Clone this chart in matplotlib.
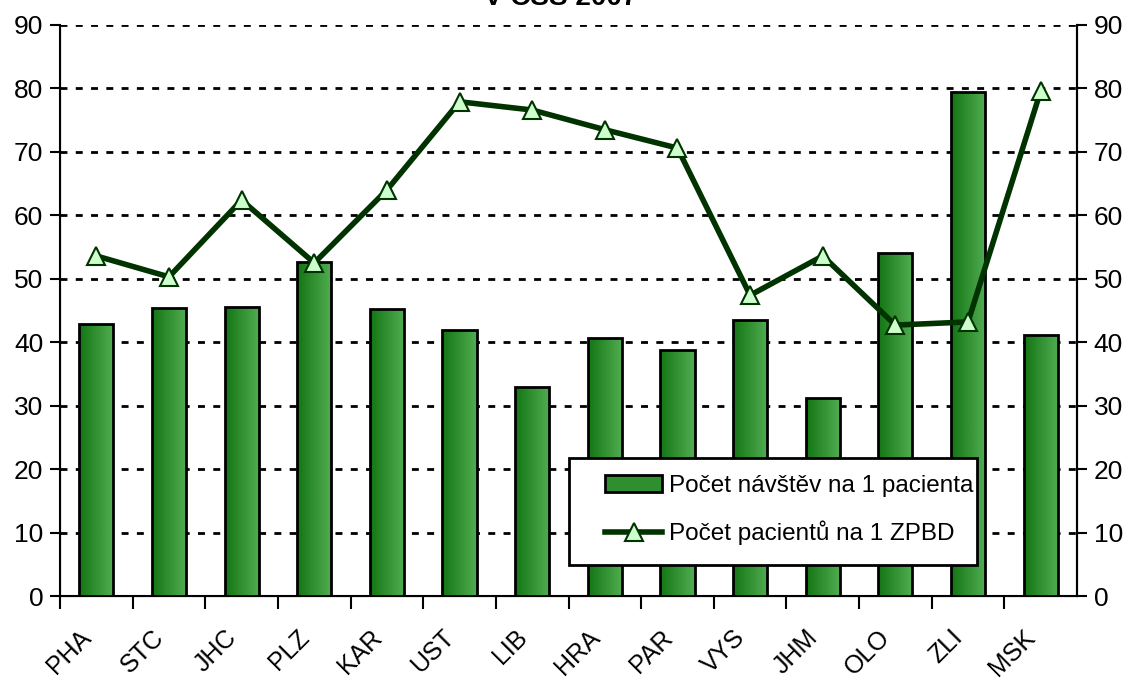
import numpy as np
import matplotlib.pyplot as plt
from matplotlib.colors import LinearSegmentedColormap
from matplotlib.patches import Patch, Rectangle

plt.rcParams['font.family'] = ['Liberation Sans', 'DejaVu Sans']

kraje = ['PHA', 'STC', 'JHC', 'PLZ', 'KAR', 'UST', 'LIB', 'HRA', 'PAR', 'VYS', 'JHM', 'OLO', 'ZLI', 'MSK']
navstevy = [42.9, 45.4, 45.6, 52.6, 45.2, 41.9, 32.9, 40.7, 38.8, 43.5, 31.2, 54.1, 79.4, 41.1]
pacienti = [53.6, 50.3, 62.4, 52.5, 64.0, 77.9, 76.6, 73.5, 70.6, 47.4, 53.6, 42.7, 43.2, 79.6]
yticks = list(range(0, 91, 10))

W, H = 1128, 680
fig = plt.figure(figsize=(W / 100, H / 100), dpi=100)
ax = fig.add_axes([60 / W, 1 - 596 / H, (1077 - 60) / W, (596 - 25) / H])

x = np.arange(len(kraje))
sirka = 0.47
gradient = LinearSegmentedColormap.from_list('zelena', ['#137513', '#52ad52'])
bars = ax.bar(x, navstevy, width=sirka, color='none', edgecolor='black', linewidth=2, zorder=4)
grad = np.linspace(0, 1, 100).reshape(1, -1)
for b in bars:
    bx, by = b.get_x(), b.get_y()
    im = ax.imshow(grad, cmap=gradient, aspect='auto', zorder=3,
                   extent=[bx, bx + b.get_width(), by, by + b.get_height()])
    im.set_clip_path(b)

ax.set_xlim(-0.5, len(kraje) - 0.5)
ax.set_ylim(0, 90)
ax.set_yticks(yticks)
ax.tick_params(axis='y', direction='out', length=7, width=1.5, labelsize=19, pad=5)
ax.set_xticks(x - 0.5)
ax.set_xticklabels([])
ax.tick_params(axis='x', direction='out', length=9, width=1.5)
for i, k in enumerate(kraje):
    ax.text(i - 0.24, -4.6, k, rotation=45, ha='right', va='top', rotation_mode='anchor', fontsize=18)
for yy in yticks[1:]:
    ax.axhline(yy, color='black', linestyle=(0, (2.5, 3)), linewidth=2, zorder=1)
for s in ax.spines.values():
    s.set_linewidth(1.5)
ax.spines['top'].set_visible(False)

ax2 = ax.twinx()
ax2.set_ylim(0, 90)
ax2.set_yticks(yticks)
ax2.tick_params(axis='y', direction='out', length=7, width=1.5, labelsize=19, pad=5)
ax2.spines['top'].set_visible(False)
ax2.spines['right'].set_linewidth(1.5)
line, = ax2.plot(x, pacienti, color='#003300', linewidth=4, marker='^', markersize=13,
                 markerfacecolor='#ccffcc', markeredgecolor='#003300', markeredgewidth=1.5, zorder=5)

# ramecek legendy (Excel ma vlevo vetsi odsazeni)
ramecek = Rectangle((569 / W, 1 - 565 / H), (977 - 569) / W, (565 - 458) / H, transform=fig.transFigure,
                    facecolor='white', edgecolor='black', linewidth=2, zorder=9)
ax2.add_artist(ramecek)
bar_handle = Patch(facecolor='#2f8f2f', edgecolor='black', linewidth=2)
leg = ax2.legend([bar_handle, line], ['Počet návštěv na 1 pacienta', 'Počet pacientů na 1 ZPBD'],
                 loc='center left', bbox_to_anchor=(588 / W, 1 - 510 / H), bbox_transform=fig.transFigure,
                 fontsize=17.5, frameon=False, borderpad=0.2, labelspacing=1.0,
                 handlelength=2.35, handletextpad=0.3)
leg.set_zorder(10)

fig.text(0.497, 1 - 5 / H, 'V ČSS 2007', ha='center', va='baseline', fontsize=20, weight='bold')

fig.savefig('out.png', dpi=100)
